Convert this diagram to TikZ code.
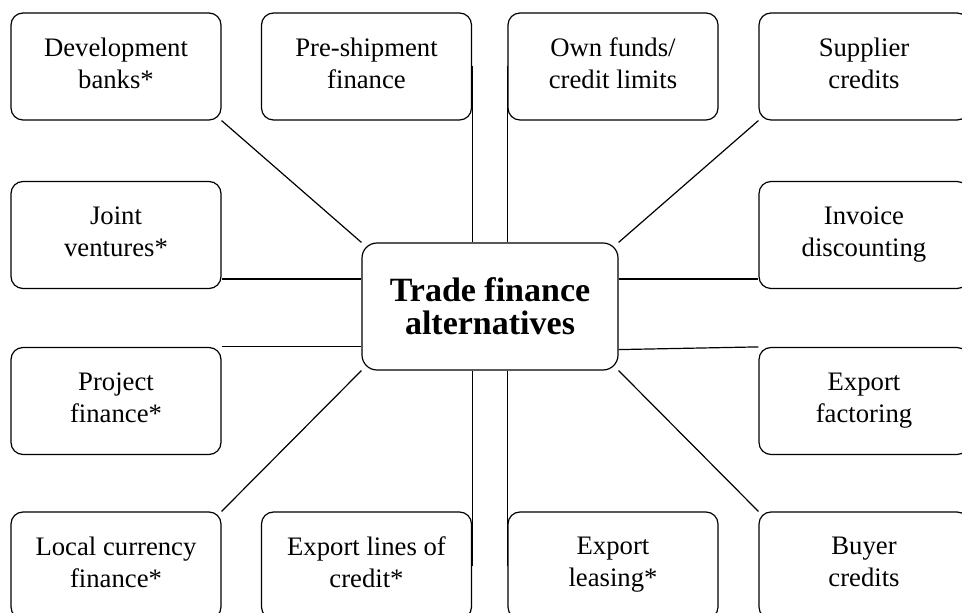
\documentclass[tikz,border=0pt]{standalone}
\usepackage{fontspec}
\setmainfont{Liberation Serif}
\usetikzlibrary{backgrounds}

\newcommand{\altfirst}{\rule{0pt}{13pt}}
\newcommand{\altlast}{\rule[-3.5pt]{0pt}{3.5pt}}

\tikzset{
  alt/.style={draw, fill=white, rounded corners=6pt, line width=0.6pt,
    minimum width=105pt, minimum height=53.5pt, inner sep=0pt, align=center,
    font=\fontsize{13.35}{16}\selectfont,
    execute at begin node=\altfirst, execute at end node=\altlast},
  hub/.style={draw, fill=white, rounded corners=7.5pt, line width=0.6pt,
    minimum width=128pt, minimum height=63.5pt, inner sep=0pt, align=center,
    font=\bfseries\fontsize{17}{16.5}\selectfont},
  link/.style={line width=0.6pt}
}

\begin{document}
\begin{tikzpicture}[x=0.5pt, y=-0.5pt]
        \clip (0,0) rectangle (962,613);

        % Define nodes
        \node[hub] (centre) at (490,306.5) {Trade finance\\alternatives};

        \node[alt] (dev)  at (116,66.5)   {Development\\banks*};
        \node[alt] (pre)  at (366.5,66.5) {Pre-shipment\\finance};
        \node[alt] (own)  at (613,66.5)   {Own funds/\\credit limits};
        \node[alt] (sup)  at (864,66.5)   {Supplier\\credits};

        \node[alt] (jv)   at (116,235)    {Joint\\ventures*};
        \node[alt] (inv)  at (864,235)    {Invoice\\discounting};

        \node[alt] (proj) at (116,401)    {Project\\finance*};
        \node[alt] (fac)  at (864,401)    {Export\\factoring};

        \node[alt] (loc)  at (116,565.5)   {Local currency\\finance*};
        \node[alt] (exl)  at (366.5,565.5) {Export lines of\\credit*};
        \node[alt] (lea)  at (613,565.5)   {Export\\leasing*};
        \node[alt] (buy)  at (864,565.5)   {Buyer\\credits};

        % Draw links
        \begin{scope}[on background layer]
        \draw[link] (dev.south east) -- (centre.north west);
        \draw[link] (pre.east) -- (pre.east |- centre.north);
        \draw[link] (own.west) -- (own.west |- centre.north);
        \draw[link] (sup.south west) -- (centre.north east);

        \draw[link] ([yshift=5pt]jv.south east) -- ([yshift=5pt]jv.south east -| centre.west);
        \draw[link] ([yshift=5pt]inv.south west) -- ([yshift=5pt]inv.south west -| centre.east);
        \draw[link] (proj.north east) -- (proj.north east -| centre.west);
        \draw[link] ([yshift=10.5pt]centre.south east) -- (fac.north west);

        \draw[link] (loc.north east) -- (centre.south west);
        \draw[link] (exl.east) -- (exl.east |- centre.south);
        \draw[link] (lea.west) -- (lea.west |- centre.south);
        \draw[link] (buy.north west) -- (centre.south east);
        \end{scope}
\end{tikzpicture}
\end{document}
